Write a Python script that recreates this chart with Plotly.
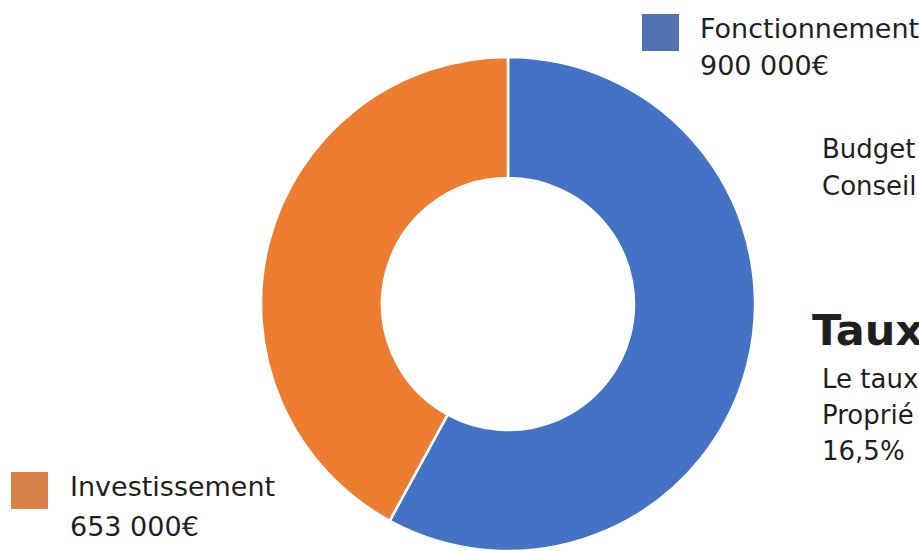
import plotly.graph_objects as go

categories = ["Fonctionnement", "Investissement"]
values = [900000, 653000]
value_labels = ["900 000€", "653 000€"]
pie_colors = ["#4472C4", "#ED7D31"]
legend_colors = ["#5272B3", "#D9834B"]

W, H = 919, 551
FONT = "DejaVu Sans"
TXT = "#1f1f1f"


def px(x):
    return x / W


def py(y):
    return 1 - y / H


fig = go.Figure()
fig.add_trace(go.Pie(
    labels=categories,
    values=values,
    hole=0.51,
    sort=False,
    direction="clockwise",
    rotation=0,
    marker=dict(colors=pie_colors, line=dict(color="white", width=2.5)),
    textinfo="none",
    hoverinfo="label+value",
    showlegend=False,
    domain=dict(x=[px(261), px(755)], y=[0, py(57)]),
))

annotations = []
shapes = []

# custom legend blocks: square x, square y, text x, line1 y, line2 y (window px)
legend_pos = [(642, 14, 698, 29, 66), (11, 472, 68, 486, 526)]
for i, (sx, sy, tx, ty1, ty2) in enumerate(legend_pos):
    shapes.append(dict(type="rect", xref="paper", yref="paper",
                       x0=px(sx), x1=px(sx + 37), y0=py(sy + 37), y1=py(sy),
                       fillcolor=legend_colors[i], line=dict(width=0)))
    annotations.append(dict(text=categories[i], x=px(tx), y=py(ty1), xref="paper", yref="paper",
                            xanchor="left", yanchor="middle", showarrow=False,
                            font=dict(family=FONT, size=27, color=TXT)))
    annotations.append(dict(text=value_labels[i], x=px(tx), y=py(ty2), xref="paper", yref="paper",
                            xanchor="left", yanchor="middle", showarrow=False,
                            font=dict(family=FONT, size=27, color=TXT)))

side_texts = [
    ("Budget", 820, 149, 26, False),
    ("Conseil", 820, 186, 26, False),
    ("Taux", 810, 330, 43, True),
    ("Le taux", 820, 379, 26, False),
    ("Proprié", 820, 415, 26, False),
    ("16,5%", 820, 451, 26, False),
]
for t, x, y, s, b in side_texts:
    annotations.append(dict(text=f"<b>{t}</b>" if b else t, x=px(x), y=py(y), xref="paper", yref="paper",
                            xanchor="left", yanchor="middle", showarrow=False,
                            font=dict(family=FONT, size=s, color=TXT)))

fig.update_layout(
    width=W, height=H,
    margin=dict(l=0, r=0, t=0, b=0),
    paper_bgcolor="white",
    plot_bgcolor="white",
    annotations=annotations,
    shapes=shapes,
)

fig.write_html(
    "out.html",
    config={"displayModeBar": False},
    post_script="document.body.style.margin='0';document.body.style.overflow='hidden';",
)
